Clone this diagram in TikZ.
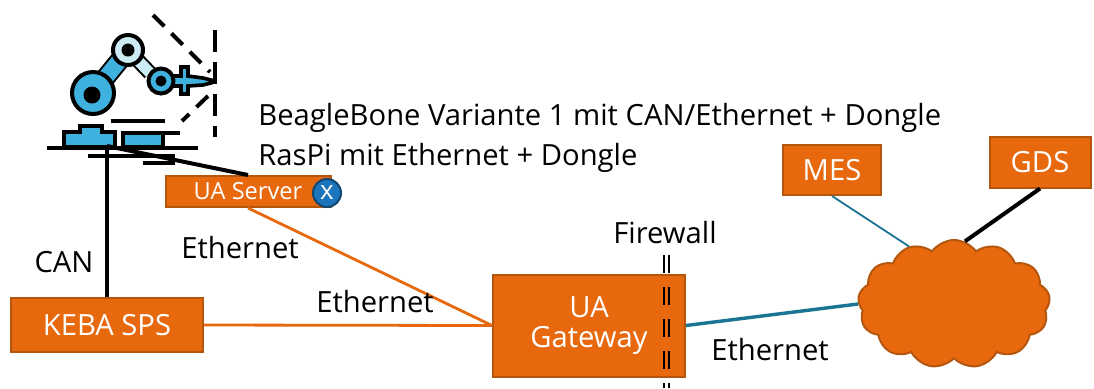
\documentclass[tikz,border=0pt]{standalone}
\usepackage{fontspec}
\setmainfont{Open Sans}
\usepackage{tikz}
\usetikzlibrary{shapes.symbols}
\usepackage{xcolor}

\definecolor{fhorange}{HTML}{E8690D}
\definecolor{fhborder}{HTML}{B5560F}
\definecolor{robblue}{HTML}{3EB1DF}
\definecolor{roblight}{HTML}{CDEBF5}
\definecolor{wanblue}{HTML}{1B7393}
\definecolor{xblue}{HTML}{1C75BC}

\tikzset{
  box/.style={draw=fhborder, line width=1pt, fill=fhorange, text=white,
    font=\fontsize{14.6}{16}\selectfont, inner sep=0pt},
  lbl/.style={font=\fontsize{14.6}{16}\selectfont, inner sep=0pt},
  cable/.style={line width=2pt, black},
  eth/.style={line width=1.4pt, fhorange},
  wan/.style={line width=1.7pt, wanblue},
}

\begin{document}
\begin{tikzpicture}[x=0.5pt, y=-0.5pt]
\useasboundingbox (0,0) rectangle (1094,388);

% robot arm
\draw[line width=10pt, black] (93,93) -- (124,55);
\draw[line width=8pt, robblue] (93,93) -- (124,55);
\draw[line width=7.5pt, black] (128,50) -- (150,73);
\draw[line width=5.5pt, roblight] (128,50) -- (150,73);
\draw[line width=2pt, fill=roblight] (128,50) circle (15);
\fill (128,50) circle (6.5);
\draw[line width=2pt, fill=robblue] (93,93) circle (21);
\fill (92,95) circle (8.5);
\draw[line width=1.8pt, fill=robblue] (170,76) -- (181,76) -- (181,67) -- (188,67) -- (188,76)
  -- (203,78) -- (211,80) -- (211,83) -- (203,85) -- (188,86) -- (188,94) -- (181,94)
  -- (181,86) -- (170,86) -- cycle;
\draw[line width=2pt, fill=robblue] (161,81) circle (12.5);
\fill (161,81) circle (5.5);
\draw[line width=2pt, dash pattern=on 8pt off 5pt] (153,15) -- (210,72);
\draw[line width=2pt, dash pattern=on 8pt off 5pt] (208,96) -- (182,121);
\draw[line width=2pt, dash pattern=on 11pt off 5pt] (215,30) -- (215,137);

% base of the robot
\draw[line width=2pt, fill=robblue] (64,147) -- (64,132) -- (80,132) -- (80,126) -- (102,126)
  -- (102,132) -- (115,132) -- (115,147) -- cycle;
\draw[line width=2pt, fill=robblue] (123,133) rectangle (163,147);
\draw[line width=2pt] (111,121) -- (165,121);
\draw[line width=2pt] (160,133) -- (180,133);
\draw[line width=2pt] (47,148) -- (198,148);
\draw[line width=2pt] (88,156) -- (175,156);
\draw[line width=2pt] (143,163) -- (175,163);
\coordinate (armfoot) at (107,146);

% nodes
\node[box, minimum width=96pt, minimum height=27pt] (keba) at (107,325) {KEBA SPS};
\node[box, minimum width=82.5pt, minimum height=15.5pt, font=\fontsize{11.8}{13}\selectfont]
  (server) at (248,191.5) {UA Server};
\node[circle, draw=xblue!60!black, line width=1pt, fill=xblue, text=white, minimum size=14pt,
  inner sep=0pt, font=\fontsize{13}{13}\selectfont] (xdongle) at (327,193) {x};
\node[box, minimum width=96pt, minimum height=51pt, align=center] (gateway) at (589,325.5)
  {UA\\[-1pt]Gateway};
\node[box, minimum width=49pt, minimum height=25pt] (mes) at (832,170) {MES};
\node[box, minimum width=50.5pt, minimum height=25.5pt] (gds) at (1040,162) {GDS};
\node[cloud, cloud puffs=13, cloud puff arc=110, aspect=1.5, draw=fhborder, line width=1pt,
  fill=fhorange, minimum width=96pt, minimum height=64pt, inner sep=0pt] (cloud) at (954,304) {};

% connections
\draw[cable] (keba.north) -- (armfoot);
\draw[cable] (armfoot) -- (server.north);
\draw[eth] (server.south) -- (gateway.west);
\draw[eth] (keba.east) -- (gateway.west);
\draw[wan] (gateway.east) -- (cloud.west);
\draw[line width=0.9pt, wanblue] (mes.south) -- (cloud.128);
\draw[cable] (gds.south) -- (cloud.80);

% firewall
\foreach \xx in {664,669}
  \draw[line width=1pt, dash pattern=on 9pt off 7pt] (\xx,255) -- (\xx,388);

% labels
\node[lbl, anchor=west] (bb) at (258,118) {BeagleBone Variante 1 mit CAN/Ethernet + Dongle};
\node[lbl, anchor=west] (rp) at (258,158) {RasPi mit Ethernet + Dongle};
\node[lbl] (can) at (64,262) {CAN};
\node[lbl] (eth1) at (240,248) {Ethernet};
\node[lbl] (eth2) at (375,302) {Ethernet};
\node[lbl] (fw) at (665,233) {Firewall};
\node[lbl] (eth3) at (770,350) {Ethernet};
\end{tikzpicture}
\end{document}
